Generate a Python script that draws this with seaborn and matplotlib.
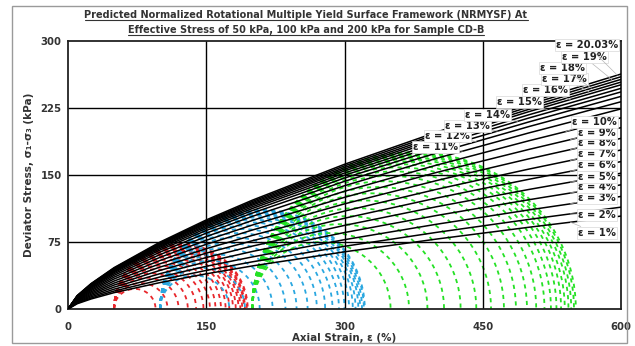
import numpy as np
import pandas as pd
import matplotlib
matplotlib.use("Agg")
import matplotlib.pyplot as plt
import seaborn as sns
from matplotlib.patches import Rectangle
from matplotlib.lines import Line2D
from matplotlib.transforms import IdentityTransform

# ---------------------------------------------------------------- data
strain_labels = ["1%", "2%", "3%", "4%", "5%", "6%", "7%", "8%", "9%", "10%",
                 "11%", "12%", "13%", "14%", "15%", "16%", "17%", "18%", "19%", "20.03%"]

# deviator stress (kPa) of each Mohr circle at the strain levels above
confining_stress = [50, 100, 200]
deviator_50 = [45, 58, 70, 80, 89, 97, 104, 110, 116, 121,
               125, 129, 132, 135, 137, 139, 141, 142, 144, 145]
deviator_100 = [75, 92, 108, 122, 136, 148, 160, 170, 179, 187,
                194, 200, 205, 209, 212, 215, 217, 219, 221, 222]
deviator_200 = [150, 170, 190, 208, 226, 243, 259, 273, 286, 298,
                308, 317, 324, 330, 335, 339, 343, 346, 349, 351]

# yield surfaces sampled along the horizontal axis
surface_x = [0, 10, 25, 50, 100, 150, 200, 300, 400, 500, 600]
ys_01 = [0, 5.9, 11.2, 18.3, 29.6, 39.4, 48.2, 64.0, 78.3, 91.5, 104]
ys_02 = [0, 6.5, 12.3, 20.1, 32.5, 43.2, 52.8, 70.2, 85.8, 100.3, 114]
ys_03 = [0, 7.2, 13.6, 22.2, 35.9, 47.8, 58.3, 77.6, 94.9, 110.9, 126]
ys_04 = [0, 7.9, 15.0, 24.5, 39.6, 52.7, 64.4, 85.6, 104.7, 122.3, 139]
ys_05 = [0, 8.7, 16.4, 26.8, 43.3, 57.6, 70.4, 93.6, 114.5, 133.8, 152]
ys_06 = [0, 9.4, 17.8, 29.0, 47.0, 62.5, 76.4, 101.6, 124.2, 145.2, 165]
ys_07 = [0, 10.1, 19.2, 31.3, 50.7, 67.5, 82.4, 109.6, 134.0, 156.6, 178]
ys_08 = [0, 10.9, 20.6, 33.6, 54.4, 72.4, 88.4, 117.7, 143.8, 168.1, 191]
ys_09 = [0, 11.6, 21.9, 35.7, 57.9, 76.9, 94.0, 125.0, 152.9, 178.6, 203]
ys_10 = [0, 12.2, 23.1, 37.7, 61.0, 81.1, 99.1, 131.8, 161.1, 188.3, 214]
ys_11 = [0, 12.8, 24.2, 39.4, 63.8, 84.9, 103.7, 138.0, 168.7, 197.1, 224]
ys_12 = [0, 13.2, 25.1, 40.8, 66.1, 87.9, 107.4, 142.9, 174.7, 204.2, 232]
ys_13 = [0, 13.6, 25.7, 41.9, 67.8, 90.2, 110.2, 146.6, 179.2, 209.4, 238]
ys_14 = [0, 13.9, 26.2, 42.8, 69.3, 92.1, 112.5, 149.7, 183.0, 213.8, 243]
ys_15 = [0, 14.1, 26.7, 43.5, 70.4, 93.6, 114.4, 152.2, 186.0, 217.4, 247]
ys_16 = [0, 14.3, 27.1, 44.2, 71.5, 95.1, 116.2, 154.6, 189.0, 220.9, 251]
ys_17 = [0, 14.5, 27.4, 44.7, 72.4, 96.3, 117.6, 156.5, 191.3, 223.5, 254]
ys_18 = [0, 14.6, 27.8, 45.2, 73.2, 97.4, 119.0, 158.3, 193.5, 226.2, 257]
ys_19 = [0, 14.8, 28.1, 45.8, 74.1, 98.5, 120.4, 160.2, 195.8, 228.8, 260]
ys_20 = [0, 15.0, 28.4, 46.3, 75.0, 99.7, 121.8, 162.0, 198.0, 231.4, 263]

x_ticks = [0, 150, 300, 450, 600]
y_ticks = [0, 75, 150, 225, 300]

surfaces = [ys_01, ys_02, ys_03, ys_04, ys_05, ys_06, ys_07, ys_08, ys_09, ys_10,
            ys_11, ys_12, ys_13, ys_14, ys_15, ys_16, ys_17, ys_18, ys_19, ys_20]
deviators = [deviator_50, deviator_100, deviator_200]

# ---------------------------------------------------------------- layout
# label anchor (axes fraction, left / middle) and the x where its leader meets the curve
label_pos = [(0.922, 0.284), (0.922, 0.351), (0.922, 0.414), (0.922, 0.455),
             (0.922, 0.493), (0.922, 0.537), (0.922, 0.578), (0.922, 0.619),
             (0.922, 0.657), (0.911, 0.698),
             (0.624, 0.604), (0.646, 0.646), (0.682, 0.683), (0.718, 0.724),
             (0.776, 0.772), (0.823, 0.817), (0.857, 0.858), (0.854, 0.899),
             (0.893, 0.940), (0.882, 0.985)]
leader_x = [545, 545, 545, 545, 545, 545, 545, 545, 545, 540,
            428, 443, 466, 488, 520, 545, 565, 568, 590, 596]

circle_colors = ["#e8262b", "#2aa7e0", "#25e125"]

# ---------------------------------------------------------------- frames
theta = np.linspace(0.0, np.pi, 241)
circle_frames = []
for s3, qs, col in zip(confining_stress, deviators, circle_colors):
    rows = []
    for k, q in enumerate(qs):
        r = q / 2.0
        rows.append(pd.DataFrame({"x": s3 + r - r * np.cos(theta),
                                  "y": r * np.sin(theta),
                                  "circle": k}))
    circle_frames.append((pd.concat(rows, ignore_index=True), col))

surf_df = pd.concat([pd.DataFrame({"x": surface_x, "y": ys, "strain": lab})
                     for ys, lab in zip(surfaces, strain_labels)], ignore_index=True)

# ---------------------------------------------------------------- figure
sns.set_theme(style="white")
plt.rcParams["font.family"] = ["DejaVu Sans"]
plt.rcParams["lines.scale_dashes"] = False

fig = plt.figure(figsize=(6.35, 3.46), dpi=100)
ax = fig.add_axes([68 / 635, 1 - 309 / 346, 553 / 635, 268 / 346])

for df, col in circle_frames:
    sns.lineplot(data=df, x="x", y="y", units="circle", estimator=None, sort=False,
                 color=col, lw=1.3, linestyle=(0, (3, 3)), ax=ax, zorder=2)

sns.lineplot(data=surf_df, x="x", y="y", units="strain", estimator=None, sort=False,
             color="black", lw=1.1, ax=ax, zorder=3)

ax.set_xlim(0, 600)
ax.set_ylim(0, 300)
ax.set_xticks(x_ticks)
ax.set_yticks(y_ticks)
for v in x_ticks[1:-1]:
    ax.axvline(v, color="black", lw=1.0, zorder=2.5)
for v in y_ticks[1:-1]:
    ax.axhline(v, color="black", lw=1.0, zorder=2.5)

for sp in ax.spines.values():
    sp.set_color("#222222")
    sp.set_linewidth(1.3)
ax.tick_params(axis="both", length=0, labelsize=7.3, labelcolor="#333333")
ax.tick_params(axis="x", pad=9)
ax.tick_params(axis="y", pad=4.5)
for t in ax.get_xticklabels() + ax.get_yticklabels():
    t.set_fontweight("bold")

ax.set_xlabel("Axial Strain, \u03b5 (%)", fontsize=7.4, fontweight="bold", color="#333333")
ax.set_ylabel("Deviator Stress, \u03c3\u2081-\u03c3\u2083 (kPa)", fontsize=7.6,
              fontweight="bold", color="#333333")
ax.xaxis.set_label_coords(0.5, -0.088)
ax.yaxis.set_label_coords(-0.062, 0.5)

# strain labels with leader lines
for ys, lab, (fx, fy), lx in zip(surfaces, strain_labels, label_pos, leader_x):
    ty = float(np.interp(lx, surface_x, ys))
    ax.annotate("\u03b5 = " + lab, xy=(lx, ty), xycoords="data",
                xytext=(fx, fy), textcoords="axes fraction",
                ha="left", va="center", fontsize=7.2, fontweight="bold", color="#222222",
                bbox=dict(boxstyle="square,pad=0.12", fc="white", ec="#d8d8d8", lw=0.5),
                arrowprops=dict(arrowstyle="-", color="#b5b5b5", lw=0.5,
                                shrinkA=0, shrinkB=0),
                annotation_clip=False, zorder=5)

# outer frame
fig.patches.append(Rectangle((12 / 635, 1 - 343 / 346), 615 / 635, 337 / 346,
                             transform=fig.transFigure, fill=False,
                             ec="#9a9a9a", lw=1.0))

# underlined two-line title
title_lines = ["Predicted Normalized Rotational Multiple Yield Surface Framework (NRMYSF) At",
               "Effective Stress of 50 kPa, 100 kPa and 200 kPa for Sample CD-B"]
title_y = [1 - 15 / 346, 1 - 30 / 346]
texts = [fig.text(306 / 635, ty, s, ha="center", va="center", fontsize=7,
                  fontweight="bold", color="#333333")
         for s, ty in zip(title_lines, title_y)]
fig.canvas.draw()
renderer = fig.canvas.get_renderer()
for t in texts:
    bb = t.get_window_extent(renderer)
    fig.add_artist(Line2D([bb.x0, bb.x1], [bb.y0 + 0.5, bb.y0 + 0.5],
                          transform=IdentityTransform(), color="#333333", lw=0.8))

fig.savefig("out.png", dpi=100)
